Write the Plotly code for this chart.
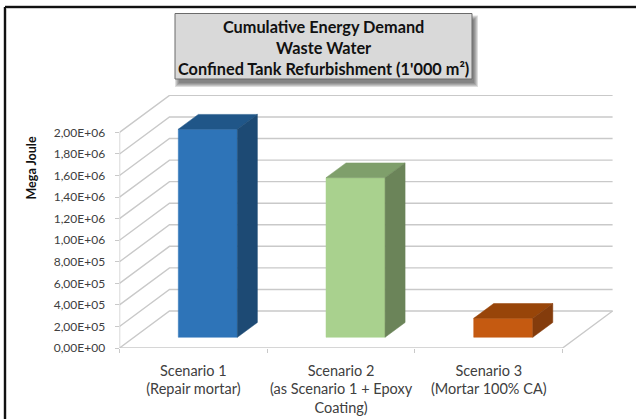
import plotly.graph_objects as go

categories = ["Scenario 1<br>(Repair mortar)", "Scenario 2<br>(as Scenario 1 + Epoxy<br>Coating)", "Scenario 3<br>(Mortar 100% CA)"]
energy_mj = [1.93e6, 1.48e6, 1.76e5]
tick_values = [0, 2e5, 4e5, 6e5, 8e5, 1e6, 1.2e6, 1.4e6, 1.6e6, 1.8e6, 2e6]
tick_labels = ["0,00E+00", "2,00E+05", "4,00E+05", "6,00E+05", "8,00E+05", "1,00E+06",
               "1,20E+06", "1,40E+06", "1,60E+06", "1,80E+06", "2,00E+06"]
front_colors = ["#2e74b8", "#a9d18e", "#c55a11"]
top_colors = ["#205688", "#7f9f6b", "#984509"]
side_colors = ["#1d4a74", "#6b8459", "#843c0c"]
title_lines = "Cumulative Energy Demand<br>Waste Water<br>Confined Tank Refurbishment (1'000 m²)"

W, H = 636, 419
L, R, T, B = 119.5, 613.5, 95.0, 348.0
FONT = "Lato"
DX = 50 / 147.7
DY = 37 / 215.6 * 2e6
XMAX = (R - L) / 147.7
YMAX = (B - T) / 215.6 * 2e6
BAR_W = 0.4
D0, D1 = 0.29, 0.69
GRID = "#c9c9c9"

fig = go.Figure()


def poly(xs, ys, color):
    fig.add_trace(go.Scatter(x=xs, y=ys, mode="lines", fill="toself", fillcolor=color,
                             line=dict(color=color, width=0.5), hoverinfo="skip",
                             showlegend=False, cliponaxis=False))


def line(xs, ys, color=GRID, width=1.4):
    fig.add_trace(go.Scatter(x=xs, y=ys, mode="lines", line=dict(color=color, width=width),
                             hoverinfo="skip", showlegend=False, cliponaxis=False))


for v in tick_values:
    line([0, DX, 3 + DX], [v, v + DY, v + DY])
line([0, 3, 3 + DX], [0, 0, DY])
line([0, 0], [0, tick_values[-1]])

for i, v in enumerate(energy_mj):
    x0 = i + 0.5 + D0 * DX - BAR_W / 2
    x1 = x0 + BAR_W
    y0 = D0 * DY
    y1 = y0 + v
    dx = (D1 - D0) * DX
    dy = (D1 - D0) * DY
    poly([x0, x1, x1, x0, x0], [y0, y0, y1, y1, y0], front_colors[i])
    poly([x0, x1, x1 + dx, x0 + dx, x0], [y1, y1, y1 + dy, y1 + dy, y1], top_colors[i])
    poly([x1, x1 + dx, x1 + dx, x1, x1], [y0, y0 + dy, y1 + dy, y1, y0], side_colors[i])


def px_rect(x0, x1, y0, y1, **kw):
    return dict(type="rect", xref="paper", yref="paper", x0=x0 / W, x1=x1 / W,
                y0=1 - y1 / H, y1=1 - y0 / H, **kw)


def px_line(x0, y0, x1, y1, color, width):
    return dict(type="line", xref="paper", yref="paper", x0=x0 / W, x1=x1 / W,
                y0=1 - y0 / H, y1=1 - y1 / H, line=dict(color=color, width=width), layer="below")


# soft shadow of the title box: stacked translucent rectangles
shadow = [px_rect(175 + 3 - g, 472 + 3 + g, 13.5 + 5 - g, 79 + 5 + g,
                  line=dict(width=0), fillcolor="rgba(50,50,50,0.16)", layer="below")
          for g in (3, 2, 1, 0, -1)]

fig.update_layout(
    width=W, height=H, margin=dict(l=0, r=0, t=0, b=0, autoexpand=False),
    paper_bgcolor="white", plot_bgcolor="rgba(0,0,0,0)", showlegend=False,
    font=dict(family=FONT, size=12, color="#404040"),
    xaxis=dict(domain=[L / W, R / W], range=[0, XMAX], showgrid=False, zeroline=False,
               tickmode="array", tickvals=[0.5, 1.5, 2.5], ticktext=categories,
               ticks="", ticklen=0, tickangle=0, ticklabelstandoff=12,
               tickfont=dict(size=14.5, color="#404040"),
               minor=dict(tickmode="array", tickvals=[0, 1, 2, 3], ticks="outside",
                          ticklen=4, tickcolor=GRID, showgrid=False)),
    yaxis=dict(domain=[1 - B / H, 1 - T / H], range=[0, YMAX], showgrid=False, zeroline=False,
               tickmode="array", tickvals=tick_values, ticktext=tick_labels,
               ticks="outside", ticklen=4, tickcolor=GRID, ticklabelstandoff=7,
               tickfont=dict(size=12, color="#404040")),
    shapes=[
        px_line(5, 7, 636, 7, "#bbbbbb", 3.5),
        px_line(5, 7, 5, 419, "#bbbbbb", 3.5),
        px_line(5, 7, 636, 7, "#111111", 2),
        px_line(5, 7, 5, 419, "#111111", 2),
    ] + shadow + [
        px_rect(175, 472, 13.5, 79, line=dict(color="#6b6b6b", width=1), fillcolor="#d9d9d9", layer="above"),
    ],
    annotations=[
        dict(text=f"<b>{title_lines}</b>", xref="paper", yref="paper", x=323 / W, y=1 - 47.5 / H,
             xanchor="center", yanchor="middle", showarrow=False, align="center",
             font=dict(family=FONT, size=16.3, color="#111111")),
        dict(text="<b>Mega Joule</b>", xref="paper", yref="paper", x=30.5 / W, y=1 - 168 / H,
             xanchor="center", yanchor="middle", textangle=-90, showarrow=False,
             font=dict(family=FONT, size=12.5, color="#111111")),
    ],
)

fig.write_html("out.html", config=dict(displayModeBar=False),
               post_script="document.body.style.margin='0';")
